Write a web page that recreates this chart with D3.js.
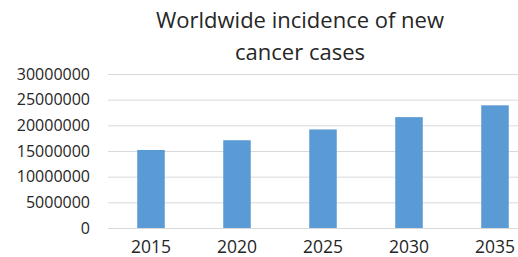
<!DOCTYPE html>
<html>
<head>
<meta charset="utf-8">
<script src="https://cdn.jsdelivr.net/npm/d3@7"></script>
<style>
  body { margin: 0; background: #fff; overflow: hidden; }
  svg { display: block; }
</style>
</head>
<body>
<div id="chart"></div>
<script>
var years = ["2015", "2020", "2025", "2030", "2035"];
var cases = [15200000, 17100000, 19200000, 21600000, 23900000];
var yTicks = [0, 5000000, 10000000, 15000000, 20000000, 25000000, 30000000];
var titleLines = ["Worldwide incidence of new", "cancer cases"];

var W = 518, H = 257;
var font = "'Open Sans', sans-serif";

var svg = d3.select("#chart").append("svg")
  .attr("width", W)
  .attr("height", H);

// plot runs off the right edge like the original crop
var x = d3.scaleBand().domain(years).range([108, 538]).paddingInner(0.68).paddingOuter(0.34);
var y = d3.scaleLinear().domain([0, 30000000]).range([228, 74]);

// gridlines
svg.append("g").selectAll("line")
  .data(yTicks)
  .enter().append("line")
  .attr("x1", 108).attr("x2", 538)
  .attr("y1", function(d){ return y(d) + 0.5; })
  .attr("y2", function(d){ return y(d) + 0.5; })
  .style("stroke", "#d9d9d9")
  .style("stroke-width", 1);

// y axis labels
var yAxis = d3.axisLeft(y).tickValues(yTicks).tickSize(0).tickPadding(0).tickFormat(d3.format("d"));
var ga = svg.append("g").attr("transform", "translate(90,0)").call(yAxis);
ga.select(".domain").remove();
ga.selectAll("text")
  .style("font-family", font)
  .style("font-size", "16px")
  .style("fill", "#262626");

// bars
svg.append("g").selectAll("rect")
  .data(cases)
  .enter().append("rect")
  .attr("x", function(d, i){ return x(years[i]); })
  .attr("width", x.bandwidth())
  .attr("y", function(d){ return y(d); })
  .attr("height", function(d){ return y(0) - y(d); })
  .style("fill", "#5b9bd5");

// x labels
var xAxis = d3.axisBottom(x).tickSize(0).tickPadding(0);
var gx = svg.append("g").attr("transform", "translate(0,253)").call(xAxis);
gx.select(".domain").remove();
gx.selectAll("text")
  .attr("dy", "0")
  .style("font-family", font)
  .style("font-size", "17.5px")
  .style("fill", "#262626");

// title
svg.append("g").selectAll("text")
  .data(titleLines)
  .enter().append("text")
  .attr("x", 300)
  .attr("y", function(d, i){ return 28 + i * 32; })
  .attr("text-anchor", "middle")
  .style("font-family", font)
  .style("font-size", "22px")
  .style("fill", "#262626")
  .text(function(d){ return d; });
</script>
</body>
</html>
